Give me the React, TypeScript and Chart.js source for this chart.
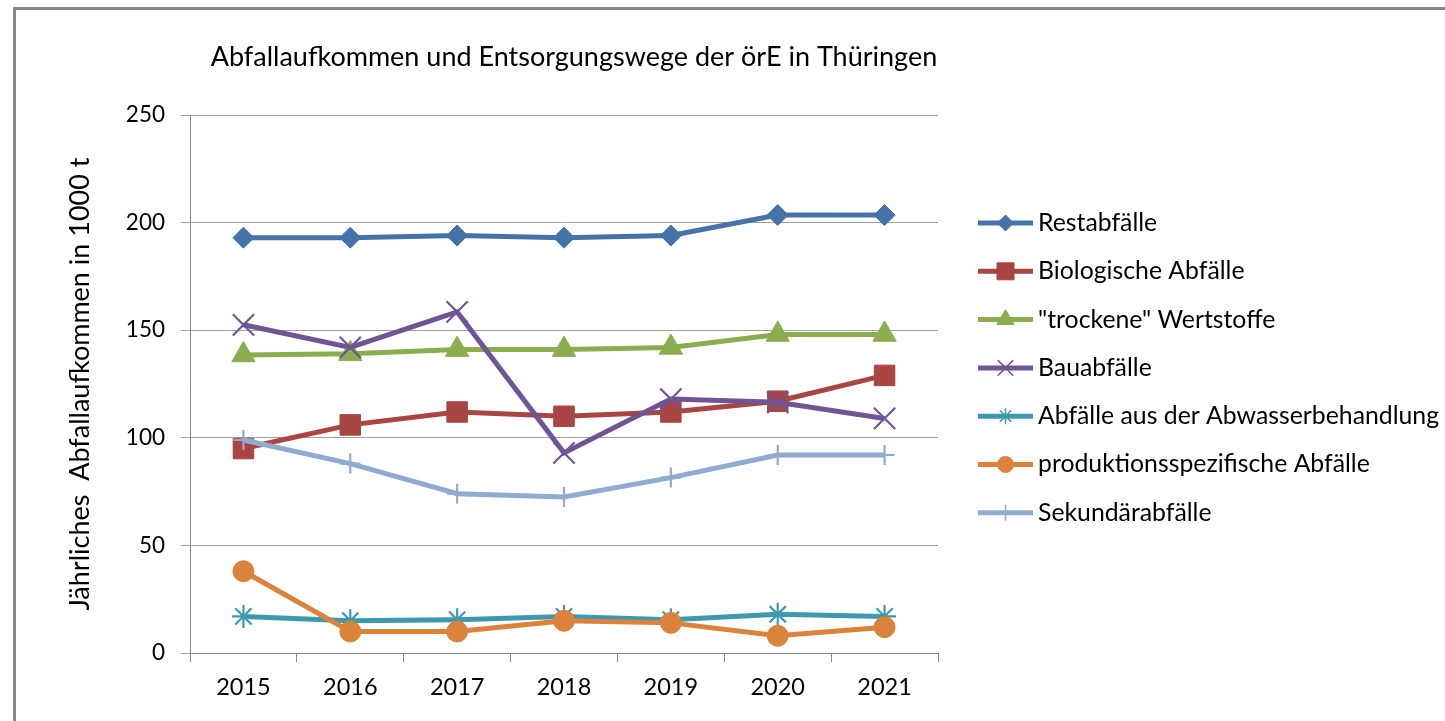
import React, { useEffect, useRef } from "react";
import { Chart, registerables } from "chart.js";
import { drawPoint } from "chart.js/helpers";

Chart.register(...registerables);

const title = "Abfallaufkommen und Entsorgungswege der örE in Thüringen";
const yAxisTitle = "Jährliches  Abfallaufkommen in 1000 t";
const years = ["2015", "2016", "2017", "2018", "2019", "2020", "2021"];

const restabfaelle = [193, 193, 194, 193, 194, 203.5, 203.5];
const biologisch = [95, 106, 112, 110, 112, 117, 129];
const trockeneWertstoffe = [138.5, 139, 141, 141, 142, 148, 148];
const bauabfaelle = [152.5, 142, 158.5, 93, 118, 116.5, 109];
const abwasser = [17, 15, 15.5, 17, 15.5, 18, 17];
const produktion = [38, 10, 10, 15, 14, 8, 12];
const sekundaer = [99, 88, 74, 72.5, 81.5, 92, 92];

const seriesNames = [
  "Restabfälle",
  "Biologische Abfälle",
  "\"trockene\" Wertstoffe",
  "Bauabfälle",
  "Abfälle aus der Abwasserbehandlung",
  "produktionsspezifische Abfälle",
  "Sekundärabfälle",
];
const seriesValues = [restabfaelle, biologisch, trockeneWertstoffe, bauabfaelle, abwasser, produktion, sekundaer];
const seriesColors = ["#4672AA", "#A94542", "#8BAD4F", "#6F5496", "#3E98B0", "#DB833A", "#90AAD2"];
const seriesStyles = ["rectRot", "rect", "triangle", "crossRot", "star", "circle", "cross"];
const seriesRadius = [10.5, 14.5, 13.5, 15, 11.5, 10.5, 10];
const legendRadius = [8, 12, 10, 11, 8, 8, 8];
const strokeOnly = [false, false, false, true, true, false, true];

const FONT = "Lato, 'Open Sans', sans-serif";

const decorPlugin = {
  id: "decor",
  afterDraw(chart: any) {
    const ctx = chart.ctx;
    ctx.save();
    ctx.fillStyle = "#000";
    ctx.font = `27px ${FONT}`;
    ctx.textAlign = "center";
    ctx.textBaseline = "middle";
    ctx.fillText(title, 574, 57);
    chart.data.datasets.forEach((ds: any, i: number) => {
      const y = 223 + i * 48.3;
      ctx.strokeStyle = ds.borderColor;
      ctx.lineWidth = 5;
      ctx.beginPath();
      ctx.moveTo(978, y);
      ctx.lineTo(1033, y);
      ctx.stroke();
      ctx.fillStyle = ds.pointBackgroundColor;
      ctx.strokeStyle = ds.pointBorderColor;
      ctx.lineWidth = strokeOnly[i] ? 1.5 : 1;
      drawPoint(ctx, { pointStyle: ds.pointStyle, rotation: 0, radius: legendRadius[i], borderWidth: strokeOnly[i] ? 1.5 : 1 }, 1005.5, y);
      ctx.fillStyle = "#000";
      ctx.font = `24.8px ${FONT}`;
      ctx.textAlign = "left";
      ctx.textBaseline = "middle";
      ctx.fillText(ds.label, 1038, y);
    });
    ctx.restore();
  },
};

export default function App() {
  const ref = useRef<HTMLCanvasElement>(null);
  useEffect(() => {
    if (!ref.current) return;
    const datasets = seriesNames.map((name, i) => ({
      label: name,
      data: seriesValues[i],
      borderColor: seriesColors[i],
      backgroundColor: seriesColors[i],
      borderWidth: 5,
      tension: 0,
      pointStyle: seriesStyles[i],
      pointRadius: seriesRadius[i],
      pointHoverRadius: seriesRadius[i],
      pointBackgroundColor: strokeOnly[i] ? "rgba(0,0,0,0)" : seriesColors[i],
      pointBorderColor: seriesColors[i],
      pointBorderWidth: strokeOnly[i] ? 2.2 : 1,
      order: seriesNames.length - i,
    }));
    const chart = new Chart(ref.current, {
      type: "line",
      data: { labels: years, datasets },
      plugins: [decorPlugin],
      options: {
        animation: false,
        responsive: false,
        maintainAspectRatio: false,
        layout: { padding: { top: 115, left: 0, right: 507, bottom: 0 } },
        plugins: {
          legend: { display: false },
          tooltip: { enabled: false },
          title: { display: false },
        },
        scales: {
          x: {
            type: "category",
            offset: true,
            grid: {
              display: true,
              drawOnChartArea: false,
              drawTicks: true,
              offset: true,
              tickLength: 9,
              color: "#888888",
            },
            border: { display: true, color: "#888888", width: 1 },
            ticks: {
              color: "#000",
              font: { family: FONT, size: 23.5 },
              padding: 11,
              maxRotation: 0,
            },
            afterFit: (scale: any) => {
              scale.height = 68;
            },
          },
          y: {
            min: 0,
            max: 250,
            ticks: {
              stepSize: 50,
              color: "#000",
              font: { family: FONT, size: 22.5 },
              padding: 16,
            },
            grid: {
              color: "#A0A0A0",
              tickLength: 9,
              drawTicks: true,
            },
            border: { display: true, color: "#888888", width: 1 },
            title: {
              display: true,
              text: yAxisTitle,
              color: "#000",
              font: { family: FONT, size: 27 },
              padding: { top: 64, bottom: 0 },
            },
            afterFit: (scale: any) => {
              scale.width = 190;
            },
          },
        },
      },
    });
    return () => chart.destroy();
  }, []);

  return (
    <div
      style={{
        position: "absolute",
        left: 0,
        top: 0,
        width: 1445,
        height: 721,
        overflow: "hidden",
        background: "#fff",
      }}
    >
      <canvas ref={ref} width={1445} height={721} style={{ position: "absolute", left: 0, top: 0, width: 1445, height: 721 }} />
      <div
        style={{
          position: "absolute",
          left: 13,
          top: 7,
          width: 1500,
          height: 800,
          borderTop: "3px solid #878787",
          borderLeft: "3px solid #878787",
          boxSizing: "border-box",
          pointerEvents: "none",
        }}
      />
    </div>
  );
}
